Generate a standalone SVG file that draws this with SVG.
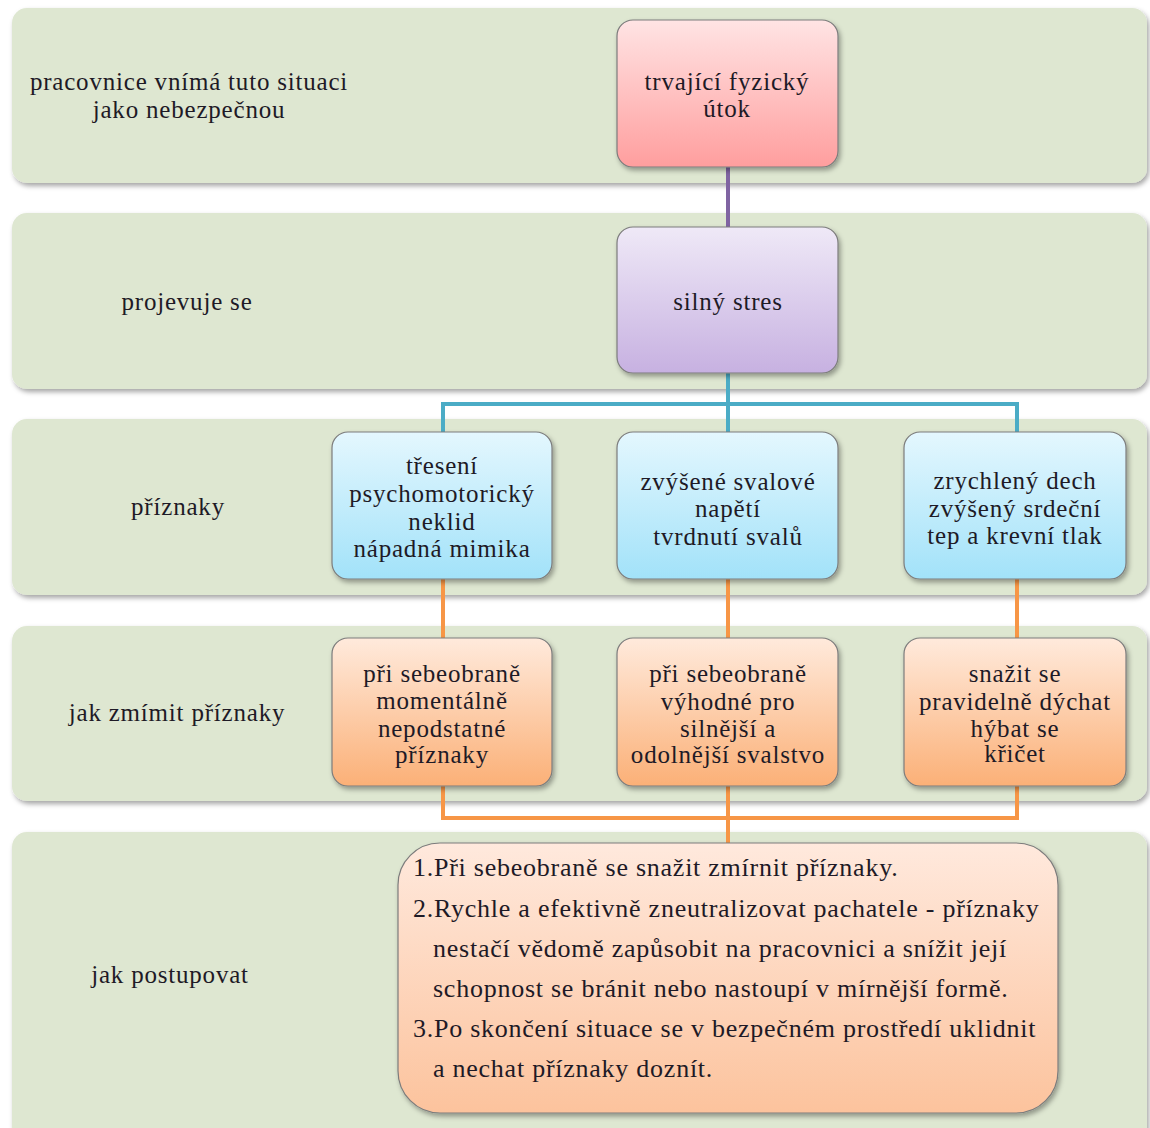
<svg xmlns="http://www.w3.org/2000/svg" width="1150" height="1128" viewBox="0 0 1150 1128">
  <defs>
    <filter id="shadow" x="-10%" y="-10%" width="120%" height="130%">
      <feDropShadow dx="2" dy="3" stdDeviation="2.5" flood-color="#000" flood-opacity="0.35"/>
    </filter>
    <linearGradient id="gPink" x1="0" y1="0" x2="0" y2="1">
      <stop offset="0" stop-color="#FFE4E4"/>
      <stop offset="1" stop-color="#FF9E9E"/>
    </linearGradient>
    <linearGradient id="gLav" x1="0" y1="0" x2="0" y2="1">
      <stop offset="0" stop-color="#EFE9F7"/>
      <stop offset="1" stop-color="#C7B1E1"/>
    </linearGradient>
    <linearGradient id="gBlue" x1="0" y1="0" x2="0" y2="1">
      <stop offset="0" stop-color="#E4F7FE"/>
      <stop offset="1" stop-color="#A2E2F9"/>
    </linearGradient>
    <linearGradient id="gOrange" x1="0" y1="0" x2="0" y2="1">
      <stop offset="0" stop-color="#FFEADC"/>
      <stop offset="1" stop-color="#FBB077"/>
    </linearGradient>
    <linearGradient id="gPeach" x1="0" y1="0" x2="0" y2="1">
      <stop offset="0" stop-color="#FFE9DD"/>
      <stop offset="1" stop-color="#FCC39D"/>
    </linearGradient>
  </defs>
  <style>
    .band { fill: #DEE7D1; filter: url(#shadow); }
    .node { stroke: #7C7C7C; stroke-width: 1.2; filter: url(#shadow); }
    .lbl { font-family: "Liberation Serif", "Times New Roman", serif; font-size: 25px; letter-spacing: 0.8px; fill: #1E1A26; text-anchor: middle; }
    .list { font-family: "Liberation Serif", "Times New Roman", serif; font-size: 26px; letter-spacing: 0.75px; fill: #1E1A26; }
    .purple { stroke: #8064A2; stroke-width: 4; fill: none; }
    .teal { stroke: #4BACC6; stroke-width: 4; fill: none; }
    .orange { stroke: #F79646; stroke-width: 4; fill: none; }
  </style>

  <rect width="1150" height="1128" fill="#FFFFFF"/>

  <!-- horizontal bands with row captions -->
  <g id="band-situation">
    <rect class="band" x="12" y="8" width="1135" height="175" rx="15"/>
    <text class="lbl" x="189" y="90">pracovnice vnímá tuto situaci</text>
    <text class="lbl" x="189" y="118">jako nebezpečnou</text>
  </g>
  <g id="band-manifest">
    <rect class="band" x="12" y="213" width="1135" height="176" rx="15"/>
    <text class="lbl" x="187" y="310">projevuje se</text>
  </g>
  <g id="band-symptoms">
    <rect class="band" x="12" y="419" width="1135" height="176" rx="15"/>
    <text class="lbl" x="178" y="515">příznaky</text>
  </g>
  <g id="band-relief">
    <rect class="band" x="12" y="626" width="1135" height="175" rx="15"/>
    <text class="lbl" x="177" y="721">jak zmímit příznaky</text>
  </g>
  <g id="band-procedure">
    <rect class="band" x="12" y="832" width="1135" height="310" rx="15"/>
    <text class="lbl" x="170" y="983">jak postupovat</text>
  </g>

  <!-- connectors -->
  <g id="connectors">
    <path class="purple" d="M728 167 V227"/>
    <path class="teal" d="M728 373 V432 M443 432 V404 H1017 V432"/>
    <path class="orange" d="M443 579 V638 M728 579 V638 M1017 579 V638"/>
    <path class="orange" d="M443 786 V818 H1017 V786 M728 786 V843"/>
  </g>

  <!-- nodes -->
  <g id="node-attack">
    <rect class="node" x="617" y="20" width="221" height="147" rx="16" fill="url(#gPink)"/>
    <text class="lbl" x="727" y="90">trvající fyzický</text>
    <text class="lbl" x="727" y="117">útok</text>
  </g>
  <g id="node-stress">
    <rect class="node" x="617" y="227" width="221" height="146" rx="16" fill="url(#gLav)"/>
    <text class="lbl" x="728" y="310">silný stres</text>
  </g>
  <g id="node-tremor">
    <rect class="node" x="332" y="432" width="220" height="147" rx="16" fill="url(#gBlue)"/>
    <text class="lbl" x="442" y="474">třesení</text>
    <text class="lbl" x="442" y="502">psychomotorický</text>
    <text class="lbl" x="442" y="530">neklid</text>
    <text class="lbl" x="442" y="557">nápadná mimika</text>
  </g>
  <g id="node-muscle">
    <rect class="node" x="617" y="432" width="221" height="147" rx="16" fill="url(#gBlue)"/>
    <text class="lbl" x="728" y="490">zvýšené svalové</text>
    <text class="lbl" x="728" y="517">napětí</text>
    <text class="lbl" x="728" y="545">tvrdnutí svalů</text>
  </g>
  <g id="node-breath">
    <rect class="node" x="904" y="432" width="222" height="147" rx="16" fill="url(#gBlue)"/>
    <text class="lbl" x="1015" y="489">zrychlený dech</text>
    <text class="lbl" x="1015" y="517">zvýšený srdeční</text>
    <text class="lbl" x="1015" y="544">tep a krevní tlak</text>
  </g>
  <g id="node-irrelevant">
    <rect class="node" x="332" y="638" width="220" height="148" rx="16" fill="url(#gOrange)"/>
    <text class="lbl" x="442" y="682">při sebeobraně</text>
    <text class="lbl" x="442" y="709">momentálně</text>
    <text class="lbl" x="442" y="737">nepodstatné</text>
    <text class="lbl" x="442" y="763">příznaky</text>
  </g>
  <g id="node-advantage">
    <rect class="node" x="617" y="638" width="221" height="148" rx="16" fill="url(#gOrange)"/>
    <text class="lbl" x="728" y="682">při sebeobraně</text>
    <text class="lbl" x="728" y="710">výhodné pro</text>
    <text class="lbl" x="728" y="737">silnější a</text>
    <text class="lbl" x="728" y="763">odolnější svalstvo</text>
  </g>
  <g id="node-breathe">
    <rect class="node" x="904" y="638" width="222" height="148" rx="16" fill="url(#gOrange)"/>
    <text class="lbl" x="1015" y="682">snažit se</text>
    <text class="lbl" x="1015" y="710">pravidelně dýchat</text>
    <text class="lbl" x="1015" y="737">hýbat se</text>
    <text class="lbl" x="1015" y="762">křičet</text>
  </g>
  <g id="node-steps">
    <rect class="node" x="398" y="843" width="660" height="270" rx="42" fill="url(#gPeach)"/>
    <text class="list" x="413" y="876">1.Při sebeobraně se snažit zmírnit příznaky.</text>
    <text class="list" x="413" y="917">2.Rychle a efektivně zneutralizovat pachatele - příznaky</text>
    <text class="list" x="433" y="957">nestačí vědomě zapůsobit na pracovnici a snížit její</text>
    <text class="list" x="433" y="997">schopnost se bránit nebo nastoupí v mírnější formě.</text>
    <text class="list" x="413" y="1037">3.Po skončení situace se v bezpečném prostředí uklidnit</text>
    <text class="list" x="433" y="1077">a nechat příznaky doznít.</text>
  </g>
</svg>
